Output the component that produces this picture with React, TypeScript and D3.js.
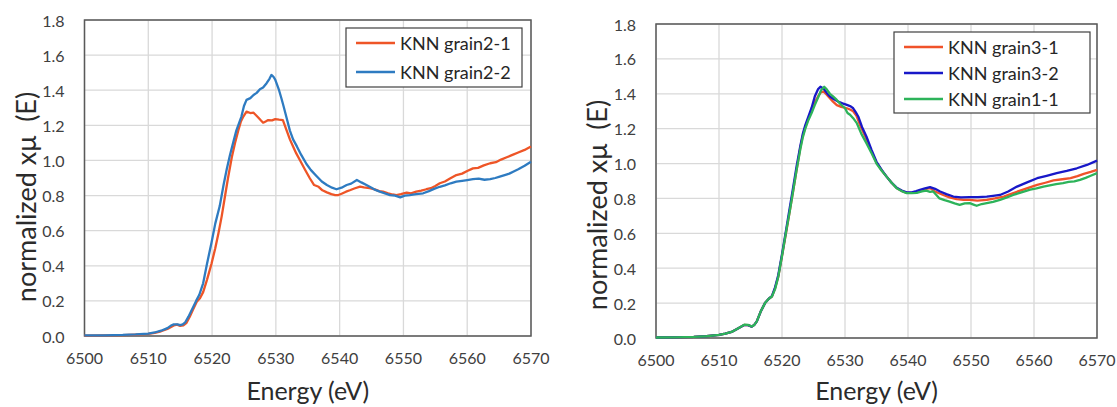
import React from "react";
import * as d3 from "d3";

// ---------- data ----------
const xTicks = [6500, 6510, 6520, 6530, 6540, 6550, 6560, 6570];
const yTicks = [0, 0.2, 0.4, 0.6, 0.8, 1.0, 1.2, 1.4, 1.6, 1.8];

const leftNames = ["KNN grain2-1", "KNN grain2-2"];
const rightNames = ["KNN grain3-1", "KNN grain3-2", "KNN grain1-1"];

// [energy eV, normalized xμ]
const grain21: [number, number][] = [
  [6500, 0.002], [6503, 0.003], [6506, 0.005], [6508, 0.008], [6510, 0.012], [6511, 0.018], [6512, 0.027],
  [6513, 0.04], [6514, 0.06], [6514.5, 0.065], [6515, 0.058], [6515.5, 0.06], [6516, 0.075], [6516.5, 0.11],
  [6517, 0.15], [6517.6, 0.195], [6518.1, 0.215], [6518.6, 0.25], [6519.2, 0.32], [6519.9, 0.41], [6520.5, 0.5],
  [6521, 0.585], [6521.5, 0.68], [6522, 0.79], [6522.5, 0.9], [6523.1, 1.02], [6523.6, 1.1], [6524.1, 1.17],
  [6524.5, 1.22], [6524.9, 1.25], [6525.4, 1.278], [6526, 1.27], [6526.5, 1.272], [6527.2, 1.246], [6527.6, 1.23],
  [6528, 1.215], [6528.4, 1.222], [6528.8, 1.23], [6529.4, 1.228], [6529.9, 1.235], [6530.5, 1.232], [6531.1, 1.23],
  [6531.7, 1.17], [6532.2, 1.12], [6532.7, 1.08], [6533.2, 1.04], [6533.8, 1.0], [6534.6, 0.946], [6535.3, 0.9],
  [6536, 0.86], [6536.7, 0.85], [6537.3, 0.83], [6538, 0.818], [6538.7, 0.808], [6539.3, 0.803], [6539.8, 0.803],
  [6540.3, 0.81], [6541, 0.822], [6541.6, 0.83], [6542.3, 0.84], [6543.2, 0.851], [6543.8, 0.846], [6544.7, 0.842],
  [6545.5, 0.835], [6546.2, 0.825], [6546.8, 0.822], [6547.6, 0.812], [6548.3, 0.806], [6548.9, 0.803], [6549.6, 0.808],
  [6550.5, 0.817], [6551.2, 0.812], [6552, 0.822], [6552.8, 0.828], [6553.6, 0.836], [6554.3, 0.842], [6555, 0.855],
  [6555.7, 0.87], [6556.5, 0.88], [6557.3, 0.897], [6558.3, 0.917], [6559.2, 0.925], [6560, 0.94], [6560.9, 0.955],
  [6561.7, 0.958], [6562.6, 0.972], [6563.6, 0.984], [6564.5, 0.99], [6565.3, 1.005], [6566.2, 1.018], [6567, 1.03],
  [6568, 1.045], [6569, 1.06], [6570, 1.08],
];

const grain22: [number, number][] = [
  [6500, 0.003], [6503, 0.004], [6506, 0.006], [6508, 0.009], [6510, 0.014], [6511, 0.02], [6512, 0.03],
  [6513, 0.045], [6513.5, 0.058], [6514, 0.066], [6514.6, 0.066], [6515, 0.062], [6515.4, 0.066], [6515.8, 0.078],
  [6516.3, 0.11], [6516.7, 0.14], [6517.1, 0.17], [6517.5, 0.2], [6518, 0.235], [6518.6, 0.3], [6519.2, 0.41],
  [6519.9, 0.53], [6520.5, 0.64], [6521.2, 0.74], [6521.8, 0.86], [6522.3, 0.95], [6522.8, 1.03], [6523.3, 1.1],
  [6523.8, 1.17], [6524.2, 1.21], [6524.6, 1.25], [6525, 1.31], [6525.4, 1.345], [6526, 1.355], [6526.5, 1.373],
  [6527, 1.385], [6527.5, 1.405], [6528, 1.415], [6528.55, 1.44], [6529, 1.465], [6529.3, 1.487], [6529.6, 1.478],
  [6529.9, 1.46], [6530.2, 1.43], [6530.5, 1.4], [6530.9, 1.35], [6531.2, 1.31], [6531.7, 1.24], [6532.2, 1.17],
  [6532.7, 1.12], [6533.3, 1.08], [6534, 1.03], [6534.8, 0.98], [6535.5, 0.945], [6536.4, 0.91], [6537.2, 0.88],
  [6538, 0.86], [6538.8, 0.845], [6539.5, 0.836], [6540.3, 0.845], [6541.1, 0.86], [6541.8, 0.868], [6542.7, 0.889],
  [6543.4, 0.875], [6544.2, 0.86], [6545, 0.845], [6545.6, 0.832], [6546.3, 0.822], [6547.1, 0.812], [6547.9, 0.803],
  [6548.7, 0.8], [6549.5, 0.79], [6550.2, 0.8], [6551, 0.803], [6552, 0.808], [6553.1, 0.813], [6554, 0.825],
  [6554.8, 0.838], [6555.7, 0.85], [6556.5, 0.858], [6557.4, 0.87], [6558.3, 0.879], [6559.2, 0.884], [6560, 0.888],
  [6560.9, 0.893], [6561.8, 0.896], [6562.7, 0.89], [6563.6, 0.893], [6564.4, 0.9], [6565.1, 0.908], [6566, 0.918],
  [6566.6, 0.925], [6567.2, 0.936], [6568, 0.95], [6569, 0.97], [6570, 0.993],
];

const grain31: [number, number][] = [
  [6500, 0.003], [6503, 0.004], [6506, 0.006], [6508, 0.01], [6510, 0.018], [6511, 0.025], [6512, 0.035],
  [6513, 0.055], [6514, 0.075], [6514.6, 0.074], [6515.2, 0.065], [6515.6, 0.075], [6516, 0.095], [6516.6, 0.15],
  [6517.3, 0.2], [6517.9, 0.225], [6518.4, 0.238], [6518.9, 0.285], [6519.4, 0.35], [6520, 0.47], [6520.7, 0.615],
  [6521.2, 0.72], [6521.8, 0.85], [6522.3, 0.96], [6522.9, 1.09], [6523.3, 1.16], [6523.7, 1.21], [6524.2, 1.26],
  [6524.7, 1.305], [6525.2, 1.35], [6525.8, 1.39], [6526.2, 1.41], [6526.6, 1.413], [6527.1, 1.395], [6527.6, 1.375],
  [6528.1, 1.355], [6528.7, 1.335], [6529.4, 1.325], [6530.3, 1.317], [6530.8, 1.31], [6531.3, 1.3], [6531.8, 1.275],
  [6532.4, 1.22], [6533.4, 1.14], [6534.2, 1.07], [6535, 1.005], [6535.8, 0.962], [6536.6, 0.925], [6537.4, 0.89],
  [6538.2, 0.86], [6539, 0.843], [6539.8, 0.832], [6540.6, 0.832], [6541.4, 0.838], [6542.2, 0.848], [6542.9, 0.855],
  [6543.5, 0.859], [6544.3, 0.84], [6545.6, 0.82], [6546.6, 0.806], [6547.7, 0.796], [6548.8, 0.792], [6549.8, 0.792],
  [6551, 0.788], [6552.5, 0.792], [6553.8, 0.8], [6555.2, 0.811], [6556.5, 0.828], [6557.8, 0.845], [6559.2, 0.862],
  [6560.5, 0.878], [6561.8, 0.89], [6563.1, 0.903], [6564.5, 0.91], [6565.8, 0.916], [6566.9, 0.928], [6567.9, 0.941],
  [6569, 0.952], [6570, 0.964],
];

const grain32: [number, number][] = [
  [6500, 0.003], [6503, 0.004], [6506, 0.006], [6508, 0.01], [6510, 0.018], [6511, 0.025], [6512, 0.035],
  [6513, 0.055], [6514, 0.074], [6514.6, 0.074], [6515.2, 0.065], [6515.6, 0.075], [6516, 0.095], [6516.6, 0.15],
  [6517.3, 0.2], [6517.9, 0.225], [6518.4, 0.24], [6518.9, 0.29], [6519.4, 0.36], [6520, 0.48], [6520.7, 0.63],
  [6521.2, 0.74], [6521.8, 0.87], [6522.3, 0.98], [6522.9, 1.1], [6523.3, 1.17], [6523.7, 1.22], [6524.2, 1.27],
  [6524.7, 1.32], [6525.2, 1.384], [6525.7, 1.425], [6526.1, 1.44], [6526.6, 1.43], [6527.1, 1.405], [6527.6, 1.384],
  [6528.2, 1.37], [6528.9, 1.355], [6529.6, 1.345], [6530.3, 1.336], [6530.9, 1.328], [6531.3, 1.317], [6531.7, 1.295],
  [6532.1, 1.27], [6532.7, 1.21], [6533.4, 1.155], [6534.2, 1.08], [6535, 1.01], [6535.8, 0.965], [6536.6, 0.925],
  [6537.4, 0.89], [6538.2, 0.862], [6539, 0.845], [6539.8, 0.835], [6540.6, 0.835], [6541.3, 0.842], [6541.9, 0.849],
  [6542.7, 0.858], [6543.5, 0.865], [6544.3, 0.855], [6545.1, 0.84], [6546.1, 0.825], [6547.2, 0.811], [6548.4, 0.806],
  [6549.8, 0.807], [6551.1, 0.808], [6552.5, 0.811], [6553.5, 0.815], [6554.6, 0.82], [6555.9, 0.84], [6557.3, 0.868],
  [6558.9, 0.892], [6560.5, 0.916], [6562, 0.93], [6563.6, 0.945], [6565.2, 0.958], [6566.8, 0.973], [6568.4, 0.992],
  [6570, 1.017],
];

const grain11: [number, number][] = [
  [6500, 0.003], [6503, 0.004], [6506, 0.006], [6508, 0.01], [6510, 0.018], [6511, 0.025], [6512, 0.035],
  [6513, 0.055], [6514, 0.076], [6514.6, 0.075], [6515.2, 0.066], [6515.6, 0.075], [6516, 0.095], [6516.6, 0.15],
  [6517.3, 0.2], [6517.9, 0.225], [6518.4, 0.238], [6518.9, 0.28], [6519.4, 0.35], [6520, 0.47], [6520.7, 0.62],
  [6521.2, 0.72], [6521.8, 0.85], [6522.3, 0.96], [6522.9, 1.08], [6523.3, 1.15], [6523.7, 1.2], [6524.2, 1.25],
  [6524.7, 1.29], [6525.2, 1.335], [6525.8, 1.384], [6526.2, 1.42], [6526.7, 1.44], [6527.1, 1.425], [6527.6, 1.4],
  [6528.1, 1.385], [6528.7, 1.365], [6529.3, 1.34], [6530, 1.317], [6530.4, 1.29], [6530.8, 1.28], [6531.3, 1.26],
  [6531.9, 1.23], [6532.6, 1.17], [6533.4, 1.117], [6534.2, 1.06], [6535, 1.0], [6535.8, 0.96], [6536.6, 0.925],
  [6537.4, 0.89], [6538.2, 0.859], [6539, 0.842], [6539.8, 0.83], [6540.6, 0.83], [6541.4, 0.832], [6542.2, 0.84],
  [6542.9, 0.845], [6543.5, 0.838], [6544, 0.84], [6544.5, 0.82], [6545, 0.8], [6545.8, 0.79], [6546.6, 0.782],
  [6547.4, 0.772], [6548.2, 0.763], [6549, 0.772], [6549.8, 0.773], [6550.4, 0.765], [6550.9, 0.758], [6551.7, 0.768],
  [6552.5, 0.773], [6553.5, 0.78], [6554.6, 0.792], [6555.6, 0.805], [6556.7, 0.82], [6558, 0.835], [6559.4, 0.85],
  [6560.4, 0.858], [6561.5, 0.868], [6562.5, 0.875], [6563.5, 0.882], [6564.6, 0.888], [6565.5, 0.895], [6566.4, 0.898],
  [6567.3, 0.906], [6568.2, 0.918], [6569, 0.93], [6570, 0.945],
];

const leftSeries = [grain21, grain22];
const rightSeries = [grain31, grain32, grain11];
const leftColors = ["#EE5527", "#2E7BC1"];
const rightColors = ["#F0522A", "#1818C8", "#2DB35A"];

// ---------- chart ----------
const FONT = "Lato, 'Open Sans', sans-serif";

type Box = { x0: number; x1: number; y0: number; y1: number };
type Leg = { x: number; y: number; w: number; h: number; rows: number[] };

function Chart({
  box, series, colors, names, legend, yTitle,
}: {
  box: Box;
  series: [number, number][][];
  colors: string[];
  names: string[];
  legend: Leg;
  yTitle: { x: number; y: number };
}) {
  const x = d3.scaleLinear().domain([6500, 6570]).range([box.x0, box.x1]);
  const y = d3.scaleLinear().domain([0, 1.8]).range([box.y1, box.y0]);
  const line = d3
    .line<[number, number]>()
    .x((d) => x(d[0]))
    .y((d) => y(d[1]));
  const cx = (box.x0 + box.x1) / 2;
  return (
    <g fontFamily={FONT}>
      {xTicks.map((t) => (
        <line key={"gx" + t} x1={x(t)} x2={x(t)} y1={box.y0} y2={box.y1} stroke="#d9d9d9" strokeWidth={1.3} />
      ))}
      {yTicks.map((t) => (
        <line key={"gy" + t} x1={box.x0} x2={box.x1} y1={y(t)} y2={y(t)} stroke="#d9d9d9" strokeWidth={1.3} />
      ))}
      <rect x={box.x0} y={box.y0} width={box.x1 - box.x0} height={box.y1 - box.y0} fill="none" stroke="#595959" strokeWidth={1.5} />
      {series.map((s, i) => (
        <path key={"s" + i} d={line(s) || ""} fill="none" stroke={colors[i]} strokeWidth={2.3} strokeLinejoin="round" />
      ))}
      {yTicks.map((t) => (
        <text key={"ty" + t} x={box.x0 - 20} y={y(t)} textAnchor="end" dominantBaseline="central" fontSize={16} fill="#404040">
          {t.toFixed(1)}
        </text>
      ))}
      {xTicks.map((t) => (
        <text key={"tx" + t} x={x(t)} y={box.y1 + 21} textAnchor="middle" dominantBaseline="central" fontSize={16} fill="#404040">
          {t}
        </text>
      ))}
      <text x={cx} y={400} textAnchor="middle" fontSize={25} fill="#2b2b2b">
        Energy (eV)
      </text>
      <text
        transform={`translate(${yTitle.x},${yTitle.y}) rotate(-90)`}
        textAnchor="middle"
        dominantBaseline="central"
        fontSize={27}
        fill="#2b2b2b"
        style={{ whiteSpace: "pre" }}
      >
        {"normalized xμ  (E)"}
      </text>
      <rect x={legend.x} y={legend.y} width={legend.w} height={legend.h} fill="#fff" stroke="#404040" strokeWidth={1.2} />
      {names.map((n, i) => (
        <g key={"l" + i}>
          <line x1={legend.x + 10} x2={legend.x + 49} y1={legend.rows[i]} y2={legend.rows[i]} stroke={colors[i]} strokeWidth={2.3} />
          <text x={legend.x + 54} y={legend.rows[i]} dominantBaseline="central" fontSize={18} fill="#262626">
            {n}
          </text>
        </g>
      ))}
    </g>
  );
}

export default function App() {
  return (
    <svg width={1117} height={407} style={{ position: "absolute", left: 0, top: 0, background: "#fff" }}>
      <rect width={1117} height={407} fill="#fff" />
      <Chart
        box={{ x0: 84.5, x1: 531, y0: 20, y1: 336 }}
        series={leftSeries}
        colors={leftColors}
        names={leftNames}
        legend={{ x: 346, y: 28, w: 176, h: 59, rows: [43, 72] }}
        yTitle={{ x: 25, y: 197 }}
      />
      <Chart
        box={{ x0: 656, x1: 1097, y0: 24, y1: 338 }}
        series={rightSeries}
        colors={rightColors}
        names={rightNames}
        legend={{ x: 894, y: 32, w: 196, h: 81, rows: [47, 73, 99] }}
        yTitle={{ x: 596, y: 205 }}
      />
    </svg>
  );
}
